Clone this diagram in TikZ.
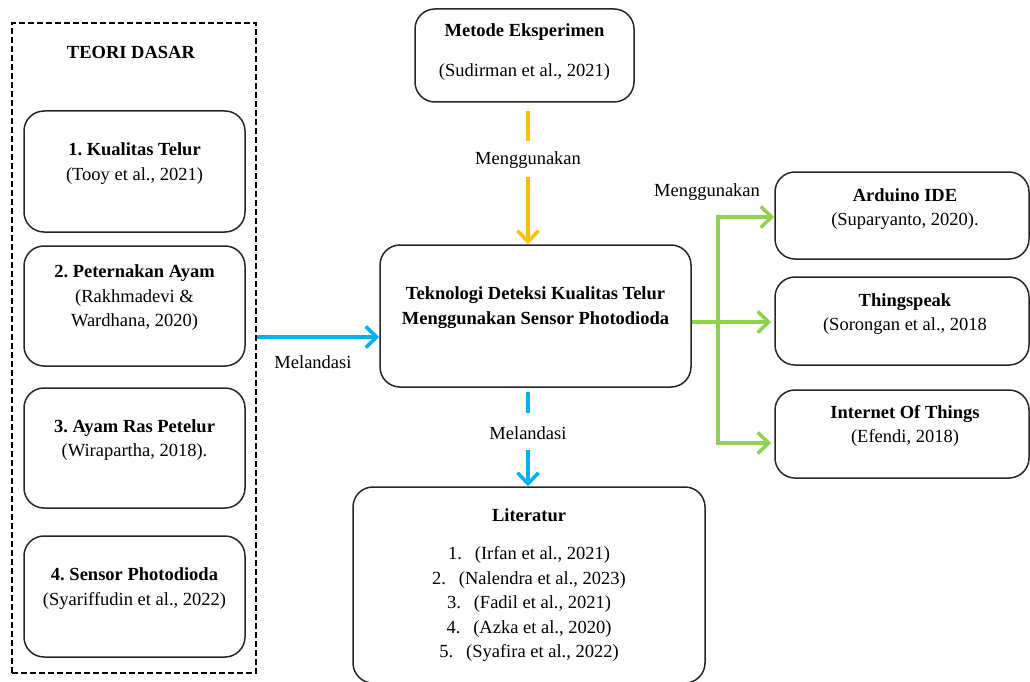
\documentclass[tikz,border=0pt]{standalone}
\usepackage{fontspec}
\setmainfont{Liberation Serif}
\usetikzlibrary{arrows.meta}
\definecolor{cOrange}{HTML}{FFC000}
\definecolor{cBlue}{HTML}{00B0F0}
\definecolor{cGreen}{HTML}{92D050}
\tikzset{
  box/.style={draw=black!85, line width=1.5pt, rounded corners=20pt, inner sep=0pt},
  txt/.style={inner sep=0pt, align=center, font=\fontsize{18.5}{24.5}\selectfont},
  conn/.style={line width=4pt, -{Straight Barb[length=11pt,width=21pt,line width=3.5pt]}},
  seg/.style={line width=4pt},
}
\frenchspacing
\begin{document}
\begin{tikzpicture}[x=1pt,y=-1pt]
\useasboundingbox (0,0) rectangle (1030,682);
% dashed frame
\node[draw, dash pattern=on 6pt off 3pt, line width=2pt, inner sep=0pt, minimum width=244pt, minimum height=650pt] (frame) at (134,348) {};
\node[txt] (teori) at (131,52) {\textbf{TEORI DASAR}};
% left boxes
\node[box, minimum width=221pt, minimum height=121pt] (b1) at (134.5,171.5) {};
\node[box, minimum width=221pt, minimum height=120pt] (b2) at (134.5,306) {};
\node[box, minimum width=221pt, minimum height=120pt] (b3) at (134.5,448) {};
\node[box, minimum width=221pt, minimum height=121pt] (b4) at (134.5,596.5) {};
\node[txt] (t1) at (134.5,163.5) {\textbf{1. Kualitas Telur}\\(Tooy et al., 2021)};
\node[txt] (t2) at (134.5,298) {\textbf{2. Peternakan Ayam}\\(Rakhmadevi \&\\Wardhana, 2020)};
\node[txt] (t3) at (134.5,440) {\textbf{3. Ayam Ras Petelur}\\(Wirapartha, 2018).};
\node[txt] (t4) at (134.5,588.5) {\textbf{4. Sensor Photodioda}\\(Syariffudin et al., 2022)};
% top
\node[box, minimum width=219pt, minimum height=93pt] (met) at (524.5,55.5) {};
\node[txt] (mett) at (524.5,32) {\textbf{Metode Eksperimen}};
\node[txt] (metc) at (524.5,72) {(Sudirman et al., 2021)};
% center
\node[box, minimum width=311pt, minimum height=142pt] (tek) at (535.5,316) {};
\node[txt] (tekt) at (535.5,307.5) {\textbf{Teknologi Deteksi Kualitas Telur}\\\textbf{Menggunakan Sensor Photodioda}};
% literatur
\node[box, minimum width=352pt, minimum height=196pt] (lit) at (529,585) {};
\node[txt] (litt) at (529,515) {\textbf{Literatur}};
\node[txt] (litl) at (529,604) {1.\hspace{0.45em} (Irfan et al., 2021)\\2.\hspace{0.45em} (Nalendra et al., 2023)\\3.\hspace{0.45em} (Fadil et al., 2021)\\4.\hspace{0.45em} (Azka et al., 2020)\\5.\hspace{0.45em} (Syafira et al., 2022)};
% right boxes
\node[box, minimum width=254pt, minimum height=87pt] (r1) at (902,215.5) {};
\node[box, minimum width=254pt, minimum height=88pt] (r2) at (902,321) {};
\node[box, minimum width=254pt, minimum height=88pt] (r3) at (902,434) {};
\node[txt] (r1t) at (905,209) {\textbf{Arduino IDE}\\(Suparyanto, 2020).};
\node[txt] (r2t) at (905,314) {\textbf{Thingspeak}\\(Sorongan et al., 2018};
\node[txt] (r3t) at (905,426) {\textbf{Internet Of Things}\\(Efendi, 2018)};
% labels
\node[txt] (lmeng1) at (528,160) {Menggunakan};
\node[txt] (lmeng2) at (707,192) {Menggunakan};
\node[txt] (lmel1) at (313,362) {Melandasi};
\node[txt] (lmel2) at (528,433) {Melandasi};
% orange connector
\coordinate (o1) at (528,111);
\coordinate (o2) at (528,141);
\coordinate (o3) at (528,177);
\draw[seg, cOrange] (o1) -- (o2);
\draw[conn, cOrange] (o3) -- (tek.north -| o3);
% blue left
\draw[conn, cBlue] (frame.east |- 0,337) -- (tek.west |- 0,337);
% blue down
\coordinate (bl1) at (528,392);
\coordinate (bl2) at (528,413);
\coordinate (bl3) at (528,450);
\draw[seg, cBlue] (bl1) -- (bl2);
\draw[conn, cBlue] (bl3) -- (lit.north -| bl3);
% green
\coordinate (gt) at (718,217);
\coordinate (gm) at (718,322);
\coordinate (gb) at (718,443);
\draw[seg, cGreen] (tek.east |- gm) -- (gm);
\draw[seg, cGreen, line cap=rect] (gt) -- (gb);
\draw[conn, cGreen] (gt) -- (r1.west |- gt);
\draw[conn, cGreen] (gm) -- ([xshift=-3pt]r2.west |- gm);
\draw[conn, cGreen] (gb) -- ([xshift=-3pt]r3.west |- gb);
\end{tikzpicture}
\end{document}
